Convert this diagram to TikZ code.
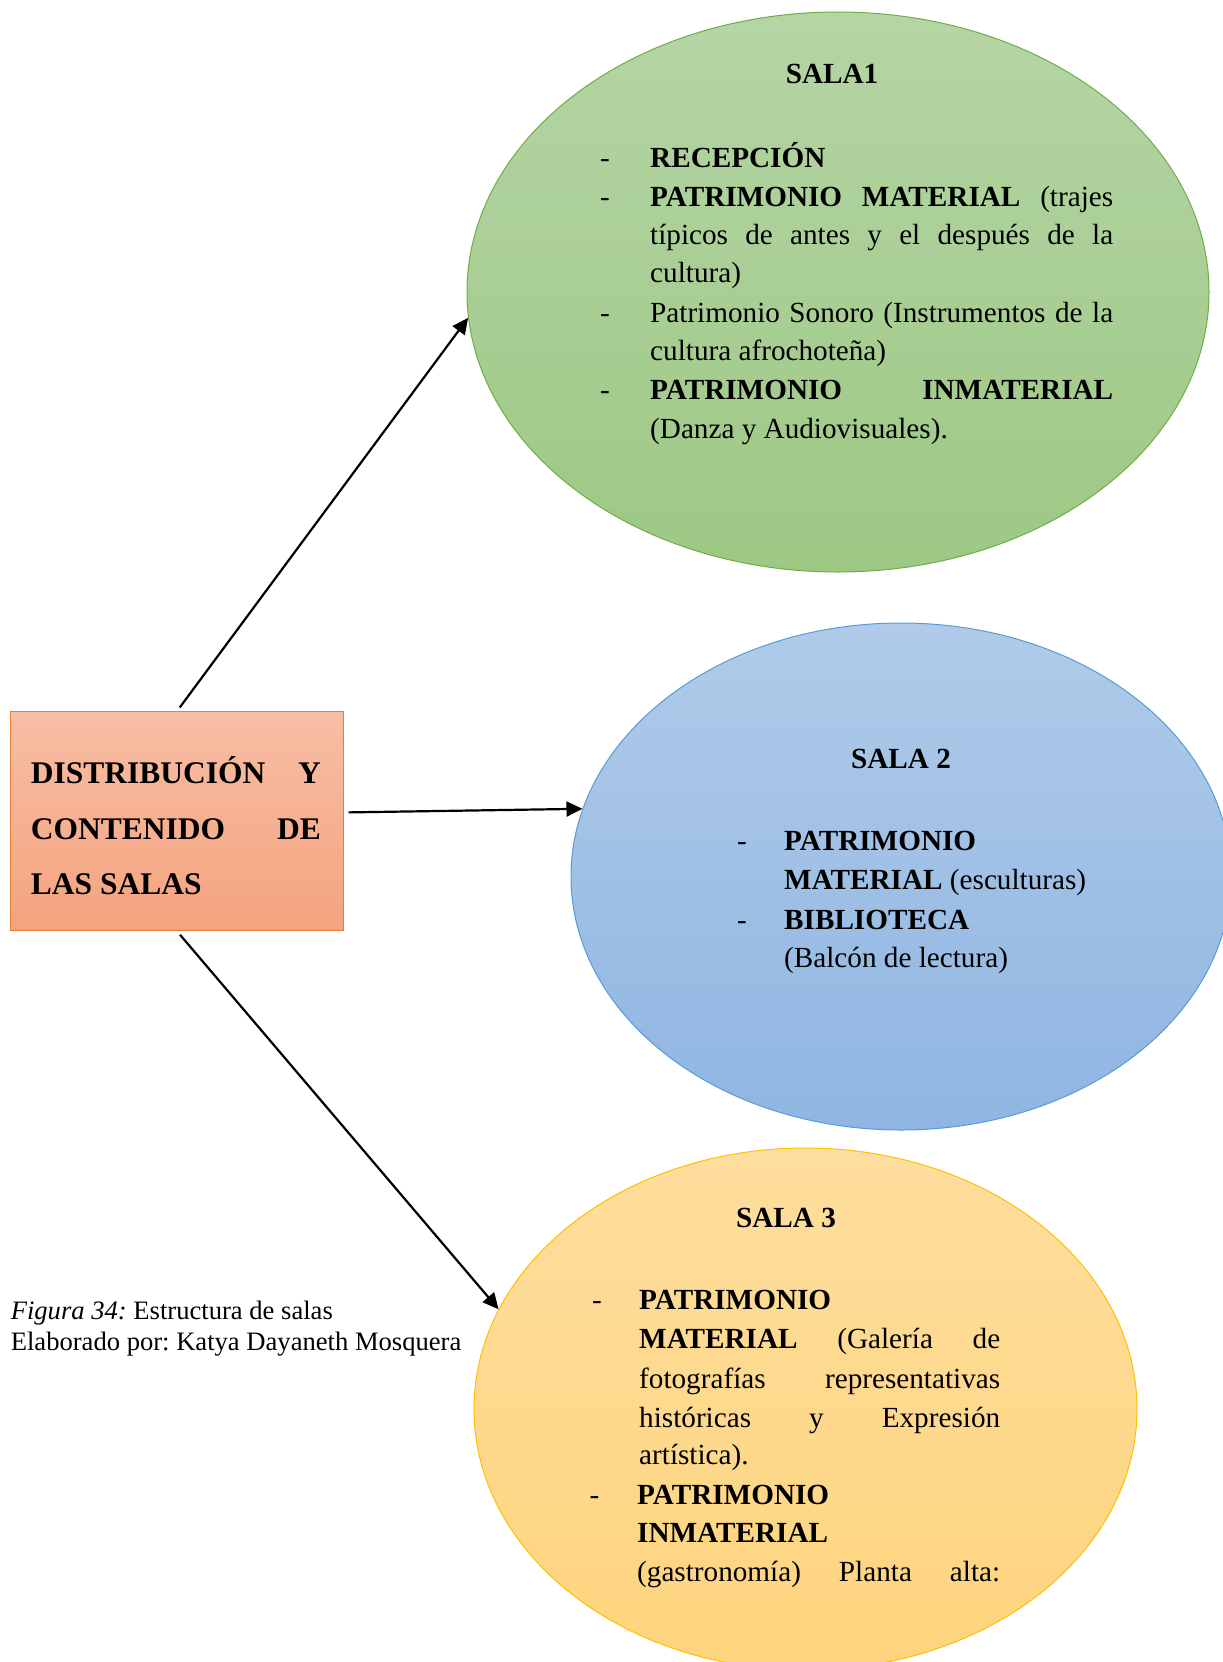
\documentclass[tikz,border=0pt]{standalone}
\usepackage{fontspec}
\setmainfont{Liberation Serif}
\usetikzlibrary{shapes.geometric,arrows.meta}
\definecolor{gTop}{RGB}{181,213,165}
\definecolor{gBot}{RGB}{157,200,132}
\definecolor{gLine}{HTML}{70AD47}
\definecolor{bTop}{RGB}{176,203,233}
\definecolor{bBot}{RGB}{143,181,226}
\definecolor{bLine}{HTML}{5B9BD5}
\definecolor{yTop}{RGB}{254,222,158}
\definecolor{yBot}{RGB}{254,212,125}
\definecolor{yLine}{HTML}{FFC000}
\definecolor{oTop}{RGB}{248,190,165}
\definecolor{oBot}{RGB}{244,163,126}
\definecolor{oLine}{HTML}{ED7D31}
\frenchspacing
\begin{document}
\begin{tikzpicture}[x=1pt,y=-1pt,
  room/.style={ellipse, line width=1pt, inner sep=0pt},
  conn/.style={line width=2.2pt, -{Triangle[length=16pt,width=15pt]}, shorten <=5pt},
  txt/.style={anchor=base west, inner sep=0pt, font=\fontsize{29.2}{35}\selectfont},
  dashnode/.style={anchor=base, inner sep=0pt, font=\fontsize{29.2}{35}\selectfont},
  title/.style={anchor=base, inner sep=0pt, font=\fontsize{29.2}{35}\selectfont\bfseries},
  boxtxt/.style={anchor=base west, inner sep=0pt, font=\fontsize{31.5}{38}\selectfont\bfseries},
  captxt/.style={anchor=base west, inner sep=0pt, font=\fontsize{26.6}{32}\selectfont}
]
\useasboundingbox (0,0) rectangle (1223,1662);

% shapes
\node[room, draw=gLine, top color=gTop, bottom color=gBot, minimum width=742pt, minimum height=560pt] (sala1) at (838,292) {};
\node[room, draw=bLine, top color=bTop, bottom color=bBot, minimum width=660pt, minimum height=507pt] (sala2) at (901,876.5) {};
\node[room, draw=yLine, top color=yTop, bottom color=yBot, minimum width=663pt, minimum height=522pt] (sala3) at (805.5,1409) {};
\node[draw=oLine, line width=1pt, top color=oTop, bottom color=oBot, minimum width=332.4pt, minimum height=218.5pt, inner sep=0pt] (box) at (176.8,821.2) {};

% connectors
\draw[conn] (box.north) -- (sala1.184);
\draw[conn] (box.3) -- (sala2.168);
\draw[conn] (box.south) -- (sala3.162);

% box text
\node[boxtxt] (b1) at (30.7,783) {\makebox[290pt][s]{DISTRIBUCIÓN Y}};
\node[boxtxt] (b2) at (30.7,839) {\makebox[290pt][s]{CONTENIDO DE}};
\node[boxtxt] (b3) at (30.7,894.5) {LAS SALAS};

% sala 1 text
\node[title] (s1t) at (832,84) {SALA1};
\node[dashnode] (s1d1) at (605,167) {-};
\node[txt] (s1l1) at (650,167) {\textbf{RECEPCIÓN}};
\node[dashnode] (s1d2) at (605,206) {-};
\node[txt] (s1l2) at (650,206) {\makebox[463pt][s]{\textbf{PATRIMONIO MATERIAL} (trajes}};
\node[txt] (s1l3) at (650,244) {\makebox[463pt][s]{típicos de antes y el después de la}};
\node[txt] (s1l4) at (650,282) {cultura)};
\node[dashnode] (s1d3) at (605,322) {-};
\node[txt] (s1l5) at (650,322) {\makebox[463pt][s]{Patrimonio Sonoro (Instrumentos de la}};
\node[txt] (s1l6) at (650,360) {cultura afrochoteña)};
\node[dashnode] (s1d4) at (605,399) {-};
\node[txt] (s1l7) at (650,399) {\makebox[463pt][s]{\textbf{PATRIMONIO INMATERIAL}}};
\node[txt] (s1l8) at (650,438) {(Danza y Audiovisuales).};

% sala 2 text
\node[title] (s2t) at (901,768) {SALA 2};
\node[dashnode] (s2d1) at (742,850) {-};
\node[txt] (s2l1) at (784,850) {\textbf{PATRIMONIO}};
\node[txt] (s2l2) at (784,889) {\textbf{MATERIAL} (esculturas)};
\node[dashnode] (s2d2) at (742,929) {-};
\node[txt] (s2l3) at (784,929) {\textbf{BIBLIOTECA}};
\node[txt] (s2l4) at (784,967) {(Balcón de lectura)};

% sala 3 text
\node[title] (s3t) at (786,1227) {SALA 3};
\node[dashnode] (s3d1) at (597,1309) {-};
\node[txt] (s3l1) at (639,1309) {\textbf{PATRIMONIO}};
\node[txt] (s3l2) at (639,1348) {\makebox[361pt][s]{\textbf{MATERIAL} (Galería de}};
\node[txt] (s3l3) at (639,1388) {\makebox[361pt][s]{fotografías representativas}};
\node[txt] (s3l4) at (639,1427) {\makebox[361pt][s]{históricas y Expresión}};
\node[txt] (s3l5) at (639,1464) {artística).};
\node[dashnode] (s3d2) at (594.5,1504) {-};
\node[txt] (s3l6) at (637,1504) {\textbf{PATRIMONIO}};
\node[txt] (s3l7) at (637,1542) {\textbf{INMATERIAL}};
\node[txt] (s3l8) at (637,1581) {\makebox[363pt][s]{(gastronomía) Planta alta:}};

% caption
\node[captxt] (c1) at (10.6,1319) {\textit{Figura 34:} Estructura de salas};
\node[captxt] (c2) at (10.6,1350) {Elaborado por: Katya Dayaneth Mosquera};
\end{tikzpicture}
\end{document}
